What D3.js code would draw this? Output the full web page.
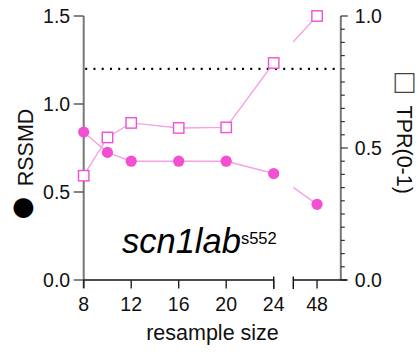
<!DOCTYPE html>
<html><head><meta charset="utf-8">
<script src="https://cdn.jsdelivr.net/npm/d3@7"></script>
<style>
html,body{margin:0;padding:0;background:#fff;}
svg{display:block;font-family:"Liberation Sans",Arial,sans-serif;}
</style></head>
<body>
<svg id="c" width="418" height="354"></svg>
<script>
// ---- data ----
const sizes = [8, 10, 12, 16, 20, 24, 48];
const rssmd = [0.84, 0.725, 0.675, 0.675, 0.675, 0.605, 0.43];
const tpr = [0.395, 0.54, 0.595, 0.576, 0.578, 0.822, 1.0];
const xTicksSeg1 = [8, 12, 16, 20, 24];
const xTicksSeg2 = [48];
const leftTicks = [0, 0.5, 1.0, 1.5];
const rightTicks = [0, 0.5, 1.0];
const threshold = 1.2;
const labelMain = "scn1lab";
const labelSup = "s552";

// ---- layout ----
const svg = d3.select("#c");
const yL = d3.scaleLinear().domain([0, 1.5]).range([280, 16]);
const yR = d3.scaleLinear().domain([0, 1.0]).range([280, 16]);
const x1 = d3.scaleLinear().domain([8, 24]).range([83.7, 273.7]);
const x2 = d3.scaleLinear().domain([46, 50]).range([293.3, 340.8]);
const xp = v => v <= 24 ? x1(v) : x2(v);

const markCol = "#f24fd3", lineCol = "#f6a2e4";

// clip paths for broken axis
const defs = svg.append("defs");
const cp = defs.append("clipPath").attr("id", "brk");
cp.append("rect").attr("x", 0).attr("y", 0).attr("width", x1.range()[1]).attr("height", 354);
cp.append("rect").attr("x", x2.range()[0]).attr("y", 0).attr("width", 418 - x2.range()[0]).attr("height", 354);

// threshold dotted line
svg.append("line")
  .attr("x1", x1.range()[0] + 1.5).attr("x2", x2.range()[1])
  .attr("y1", yL(threshold)).attr("y2", yL(threshold))
  .attr("stroke", "#000").attr("stroke-width", 2.2)
  .attr("stroke-dasharray", "2,6.25");

// left axis
const gL = svg.append("g").attr("transform", `translate(${x1.range()[0]},0)`);
gL.append("line").attr("y1", yL(1.5)).attr("y2", 288).attr("stroke", "#777").attr("stroke-width", 2);
gL.selectAll(".t").data(leftTicks).join("line")
  .attr("x1", -10).attr("x2", 0).attr("y1", d => yL(d)).attr("y2", d => yL(d))
  .attr("stroke", "#444").attr("stroke-width", 1.3);
gL.selectAll(".l").data(leftTicks).join("text")
  .attr("x", -13.5).attr("y", d => yL(d)).attr("dy", "0.36em")
  .attr("text-anchor", "end").attr("font-size", 19.5).attr("fill", "#111")
  .text(d => d3.format(".1f")(d));

// right axis
const gR = svg.append("g").attr("transform", `translate(${x2.range()[1]},0)`);
gR.append("line").attr("y1", yR(1)).attr("y2", yR(0)).attr("stroke", "#777").attr("stroke-width", 2);
gR.selectAll(".m").data(d3.range(0, 21).map(i => i * 0.05)).join("line")
  .attr("x1", 0).attr("x2", d => rightTicks.some(t => Math.abs(t - d) < 1e-6) ? 7 : 4)
  .attr("y1", d => yR(d)).attr("y2", d => yR(d))
  .attr("stroke", "#333").attr("stroke-width", 1.2);
gR.selectAll(".l").data(rightTicks).join("text")
  .attr("x", 14).attr("y", d => yR(d)).attr("dy", "0.36em")
  .attr("text-anchor", "start").attr("font-size", 19.5).attr("fill", "#111")
  .text(d => d3.format(".1f")(d));

// x axis (broken)
const gX = svg.append("g");
gX.append("line").attr("x1", x1.range()[0]).attr("x2", x1.range()[1]).attr("y1", 280).attr("y2", 280).attr("stroke", "#111").attr("stroke-width", 1.4);
gX.append("line").attr("x1", x2.range()[0]).attr("x2", x2.range()[1] + 6).attr("y1", 280).attr("y2", 280).attr("stroke", "#111").attr("stroke-width", 1.4);
[x1.range()[1], x2.range()[0]].forEach(xx => {
  gX.append("line").attr("x1", xx).attr("x2", xx).attr("y1", 276.5).attr("y2", 289).attr("stroke", "#111").attr("stroke-width", 1.4);
});
const xt = xTicksSeg1.map(v => ({v, x: x1(v)})).concat(xTicksSeg2.map(v => ({v, x: x2(v)})));
gX.selectAll(".t").data(xt).join("line")
  .attr("x1", d => d.x).attr("x2", d => d.x).attr("y1", 280).attr("y2", 288.5)
  .attr("stroke", "#222").attr("stroke-width", 1.4);
gX.selectAll(".l").data(xt).join("text")
  .attr("x", d => d.x).attr("y", 310.5).attr("text-anchor", "middle")
  .attr("font-size", 19.5).attr("fill", "#111").text(d => d.v);

// axis titles
svg.append("text").attr("x", 212.5).attr("y", 340).attr("text-anchor", "middle")
  .attr("font-size", 21.5).attr("fill", "#111").text("resample size");

svg.append("text").attr("transform", "translate(32.5,147.5) rotate(-90)")
  .attr("text-anchor", "middle").attr("font-size", 21.5).attr("fill", "#111").text("RSSMD");
svg.append("text").attr("x", 23.5).attr("y", 204.5)
  .attr("text-anchor", "middle").attr("dominant-baseline", "central")
  .attr("font-size", 46).attr("fill", "#000").text("●");

svg.append("text").attr("transform", "translate(397,149.7) rotate(90)")
  .attr("text-anchor", "middle").attr("font-size", 21.5).attr("fill", "#111").text("TPR(0-1)");
svg.append("text").attr("x", 404.5).attr("y", 81)
  .attr("text-anchor", "middle").attr("dominant-baseline", "central")
  .attr("font-size", 33).attr("fill", "#444").text("□");

// series lines (clipped at the break)
const pts = sizes.map((s, i) => ({s, r: rssmd[i], t: tpr[i]}));
const lineR = d3.line().x(d => xp(d.s)).y(d => yL(d.r));
const lineT = d3.line().x(d => xp(d.s)).y(d => yR(d.t));
const gLines = svg.append("g").attr("clip-path", "url(#brk)");
gLines.append("path").attr("d", lineR(pts)).attr("fill", "none").attr("stroke", lineCol).attr("stroke-width", 1.4);
gLines.append("path").attr("d", lineT(pts)).attr("fill", "none").attr("stroke", lineCol).attr("stroke-width", 1.4);

// markers
svg.selectAll(".c").data(pts).join("circle")
  .attr("cx", d => xp(d.s)).attr("cy", d => yL(d.r)).attr("r", 5.6)
  .attr("fill", markCol);
svg.selectAll(".s").data(pts).join("rect")
  .attr("x", d => xp(d.s) - 5.2).attr("y", d => yR(d.t) - 5.2)
  .attr("width", 10.4).attr("height", 10.4)
  .attr("fill", "#fff").attr("stroke", markCol).attr("stroke-width", 1.4);

// gene label
const gl = svg.append("text").attr("x", 122).attr("y", 252.5).attr("fill", "#000");
gl.append("tspan").attr("font-style", "italic").attr("font-size", 34.5).text(labelMain);
gl.append("tspan").attr("font-size", 16.5).attr("dy", -9).text(labelSup);
</script>
</body></html>
